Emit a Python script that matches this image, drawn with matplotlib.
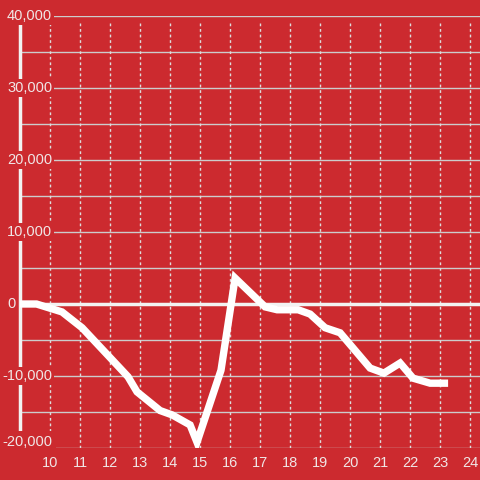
import numpy as np
import matplotlib as mpl
import matplotlib.pyplot as plt

mpl.rcParams['font.family'] = ['Liberation Sans', 'DejaVu Sans']
mpl.rcParams['font.size'] = 10.

# series (hour of day, value)
hours = [9.0, 9.55, 10.4, 11.07, 12.6, 12.9, 13.67, 14.07, 14.67, 14.9,
         15.7, 16.17, 17.17, 17.57, 18.27, 18.67, 19.17, 19.67, 20.67,
         21.13, 21.67, 22.1, 22.67, 23.27]
values = [0, 0, -1100, -3300, -10100, -12200, -14800, -15400, -16800, -19200,
          -9200, 3600, -400, -800, -800, -1400, -3300, -4000, -8900,
          -9600, -8200, -10300, -11000, -11000]

x_ticks = list(range(10, 25))
y_ticks = [-20000, -10000, 0, 10000, 20000, 30000, 40000]
y_minor = [-15000, -5000, 5000, 15000, 25000, 35000]

bg = '#cc2a2f'
txt = '#f0e6e6'

fig = plt.figure(figsize=(4.8, 4.8), dpi=100, facecolor=bg)
ax = fig.add_axes([20/480, 32/480, 460/480, 432/480], facecolor=bg)
ax.set_xlim(9.0, 9.0 + 460/30)
ax.set_ylim(-20000, 40000)

# grid
for v in y_ticks + y_minor:
    ax.axhline(v, color='#cccccc', lw=1, zorder=1)
for h in x_ticks:
    ax.axvline(h, ymax=0.985, color='#dddddd', lw=1, ls=(0, (2, 2)), zorder=1)
ax.axhline(0, color='#f2f2f2', lw=2.5, zorder=2)

ax.plot(hours, values, color='white', lw=5.3, solid_joinstyle='miter',
        solid_capstyle='butt', zorder=3)

for s in ['top', 'right', 'bottom']:
    ax.spines[s].set_visible(False)
ax.spines['left'].set_color('#f2f2f2')
ax.spines['left'].set_linewidth(2.5)
ax.spines['left'].set_zorder(2)

ax.set_xticks(x_ticks)
ax.set_xticklabels([str(h) for h in x_ticks])
ax.set_yticks([])
ax.tick_params(axis='x', length=0, colors=txt, pad=6, labelsize=10.5)

# y labels: digits start at a common left edge, minus sign hangs out
for v in y_ticks:
    left = 8.567 if v >= 0 else 8.41
    ypos = v + 850 if v == -20000 else v   # bottom label nudged up
    pad = 2.6 if v == -20000 else 1.2
    ax.text(left, ypos, f'{v:,}', ha='left', va='center',
            color=txt, fontsize=10.5, zorder=4,
            bbox=dict(facecolor=bg, edgecolor='none', pad=pad))

fig.savefig('out.png', dpi=100, facecolor=bg)
